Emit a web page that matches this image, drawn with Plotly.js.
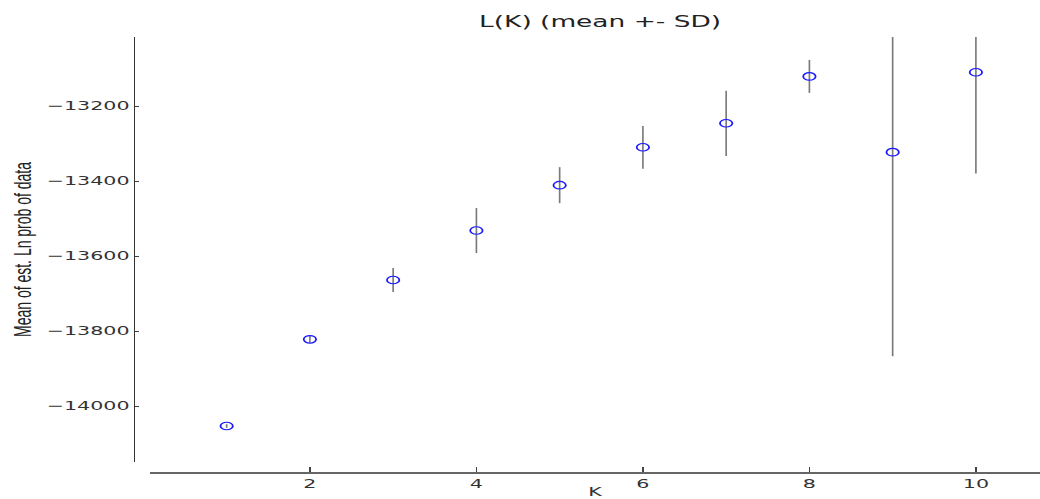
<!DOCTYPE html>
<html><head><meta charset="utf-8">
<script src="https://cdn.plot.ly/plotly-3.0.1.min.js"></script>
<style>
html,body{margin:0;padding:0;overflow:hidden;background:#fff;width:1040px;height:499px}
#wrap{width:630px;height:499px;transform:scaleX(1.650794);transform-origin:0 0;}
</style></head><body>
<div id="wrap"><div id="chart" style="width:630px;height:499px"></div></div>
<script>
// Data
const K = [1, 2, 3, 4, 5, 6, 7, 8, 9, 10];
const meanLnP = [-14053, -13822, -13664, -13532, -13411, -13310, -13246, -13121, -13323, -13110];
const sdLnP = [5, 9, 32, 60, 48, 57, 87, 44, 544, 270];
const xTickVals = [2, 4, 6, 8, 10];
const xTickText = ['2', '4', '6', '8', '10'];
const yTickVals = [-14000, -13800, -13600, -13400, -13200];
const yTickText = ['\u221214000', '\u221213800', '\u221213600', '\u221213400', '\u221213200'];

const tickFont = {family: 'DejaVu Sans', size: 12.5, color: '#333'};

const trace = {
  x: K, y: meanLnP, type: 'scatter', mode: 'markers',
  marker: {symbol: 'circle-open', size: 7.5, color: '#1a1aff', line: {width: 1.1, color: '#1a1aff'}},
  error_y: {type: 'data', array: sdLnP, visible: true, color: '#7a7a7a', thickness: 1, width: 0},
  showlegend: false, hoverinfo: 'none'
};

const layout = {
  width: 630, height: 499,
  margin: {l: 81, r: 0, t: 37, b: 27, pad: 0},
  paper_bgcolor: '#fff', plot_bgcolor: '#fff',
  title: {text: 'L(K) (mean +- SD)', font: {family: 'DejaVu Sans', size: 16, color: '#222'},
          xref: 'paper', x: 0.5146, xanchor: 'center', yref: 'container', y: 1 - 21/499, yanchor: 'middle'},
  xaxis: {
    anchor: 'free', position: 0, domain: [9.9/549, 1], range: [0.08, 10.77],
    tickvals: xTickVals, ticktext: xTickText, tickfont: tickFont,
    ticks: 'inside', ticklen: 5, tickcolor: '#444', tickwidth: 1,
    showline: true, linecolor: '#666', linewidth: 1.5,
    showgrid: false, zeroline: false,
    title: {text: 'K', font: {family: 'DejaVu Sans', size: 12.5, color: '#333'}, standoff: 0}
  },
  yaxis: {
    anchor: 'free', position: 0, domain: [10/435, 1], range: [-14149, -13016],
    tickvals: yTickVals, ticktext: yTickText, tickfont: tickFont,
    ticks: 'inside', ticklen: 2.5, tickcolor: '#444', tickwidth: 1,
    showline: true, linecolor: '#333', linewidth: 1,
    showgrid: false, zeroline: false,
    title: {text: 'Mean of est. Ln prob of data', font: {family: 'Liberation Sans', size: 14, color: '#222'}, standoff: 4}
  }
};

Plotly.newPlot('chart', [trace], layout, {staticPlot: true, displayModeBar: false});
</script>
</body></html>
